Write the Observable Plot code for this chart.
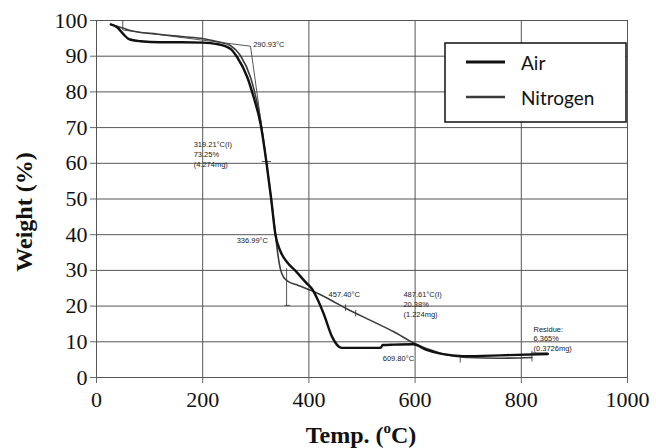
<!DOCTYPE html>
<html><head><meta charset="utf-8">
<script src="https://cdn.jsdelivr.net/npm/d3@7"></script>
<script src="https://cdn.jsdelivr.net/npm/@observablehq/plot@0.6"></script>
<style>body{margin:0;background:#fff} #chart svg{display:block}</style>
</head><body><div id="chart"></div>
<script>
// ---- data ----
const airTemp   = [27, 39, 51, 61, 83, 120, 160, 200, 227, 252, 265, 284, 296, 309, 320, 329, 337, 346, 359, 374, 395, 406, 416, 428, 444, 456, 463, 500, 535, 539, 560, 597, 620, 650, 690, 760, 850];
const airWeight = [98.9, 98.1, 96.1, 94.8, 94.2, 93.9, 93.9, 93.8, 93.4, 92.1, 89.7, 84.1, 78.5, 71, 60.3, 50, 40, 35.5, 32.3, 30, 26.5, 24.8, 22, 17.8, 11.3, 8.7, 8.3, 8.3, 8.3, 9.1, 9.2, 9.3, 7.8, 6.6, 6.0, 6.2, 6.6];

const n2Temp    = [27, 40, 51, 70, 114, 160, 202, 233, 252, 271, 290, 309, 320, 329, 337, 342, 347, 352, 360, 380, 406, 440, 472, 516, 560, 598, 620, 642, 660, 679, 700, 760, 820];
const n2Weight  = [98.9, 98.3, 97.8, 97.0, 96.2, 95.5, 94.9, 93.9, 93.0, 90.2, 84.1, 72, 60.3, 50, 40, 34, 30, 28.2, 27, 25.8, 24.3, 21.8, 19.2, 16, 12.8, 9.6, 8.2, 7.1, 6.3, 5.9, 5.6, 5.4, 5.6];

const xTicks = [0, 200, 400, 600, 800, 1000];
const yTicks = [0, 10, 20, 30, 40, 50, 60, 70, 80, 90, 100];

// instrument annotation segments (temp, weight) and labels
const annSegments = [
  {id: 1, pts: [[49.5, 100], [49.5, 97.4]]},
  {id: 2, pts: [[51, 97.3], [290, 92.8], [312, 69.2]]},
  {id: 3, pts: [[312, 60.5], [328, 60.5]]},
  {id: 4, pts: [[320, 61.3], [320, 59.5]]},
  {id: 5, pts: [[358, 30.5], [358, 20.2]]},
  {id: 6, pts: [[355, 20.2], [364, 20.2]]},
  {id: 7, pts: [[469, 20.4], [469, 18.8]]},
  {id: 8, pts: [[488, 18.8], [488, 17.2]]},
  {id: 9, pts: [[685, 6.2], [685, 4.3]]},
  {id: 10, pts: [[820, 7.4], [820, 4.6]]},
  {id: 11, pts: [[820, 6.9], [849, 6.9]]}
];
const annLabels = [
  {t: 295, w: 94.4, text: "290.93°C"},
  {t: 183, w: 66.4, text: "319.21°C(I)\n73.25%\n(4.274mg)"},
  {t: 264, w: 39.6, text: "336.99°C"},
  {t: 437, w: 24.6, text: "457.40°C"},
  {t: 578, w: 24.4, text: "487.61°C(I)\n20.38%\n(1.224mg)"},
  {t: 539, w: 6.6, text: "609.80°C"},
  {t: 823, w: 14.8, text: "Residue:\n6.365%\n(0.3726mg)"}
];

const seriesNames = ["Air", "Nitrogen"];
const seriesColors = ["#111111", "#3c3c3c"];
const seriesWidths = [2.4, 1.6];

const airData = airTemp.map((t, i) => ({t, w: airWeight[i]}));
const n2Data = n2Temp.map((t, i) => ({t, w: n2Weight[i]}));
const annData = annSegments.flatMap(s => s.pts.map(([t, w]) => ({id: s.id, t, w})));

const serif = "'Liberation Serif', 'Times New Roman', serif";

const plot = Plot.plot({
  width: 656, height: 448,
  marginLeft: 96, marginRight: 29, marginTop: 20, marginBottom: 71,
  style: {background: "#fff", color: "#111", fontFamily: serif},
  x: {domain: [0, 1000], ticks: xTicks, label: null},
  y: {domain: [0, 100], ticks: yTicks, label: null},
  marks: [
    Plot.gridX(xTicks, {stroke: "#555", strokeOpacity: 1, strokeWidth: 1}),
    Plot.gridY(yTicks, {stroke: "#555", strokeOpacity: 1, strokeWidth: 1}),
    Plot.axisX({ticks: xTicks, tickSize: 6, tickPadding: 8, stroke: "#666", label: null, fontSize: 22, fontFamily: serif, tickFormat: d => String(d)}),
    Plot.axisY({ticks: yTicks, tickSize: 6, tickPadding: 3, stroke: "#666", label: null, fontSize: 22, fontFamily: serif}),
    Plot.line(annData, {x: "t", y: "w", z: "id", stroke: "#444", strokeWidth: 0.9}),
    Plot.text(annLabels, {x: "t", y: "w", text: "text", textAnchor: "start", lineAnchor: "top", fontFamily: "Liberation Sans", fontSize: 7.5, lineHeight: 1.3, fill: "#222"}),
    Plot.line(n2Data, {x: "t", y: "w", stroke: seriesColors[1], strokeWidth: seriesWidths[1], curve: "monotone-x"}),
    Plot.line(airData, {x: "t", y: "w", stroke: seriesColors[0], strokeWidth: seriesWidths[0], curve: "monotone-x"})
  ]
});

document.getElementById("chart").appendChild(plot);

const svg = d3.select(plot);

// axis titles
svg.append("text")
  .attr("transform", "translate(24,212) rotate(-90)")
  .attr("text-anchor", "middle").attr("dominant-baseline", "central")
  .style("font-family", serif).style("font-weight", "bold").style("font-size", "24px")
  .attr("fill", "#111")
  .text("Weight (%)");
const xt = svg.append("text")
  .attr("x", 361).attr("y", 443)
  .attr("text-anchor", "middle")
  .style("font-family", serif).style("font-weight", "bold").style("font-size", "24px")
  .attr("fill", "#111");
xt.append("tspan").text("Temp. (");
xt.append("tspan").style("font-size", "15px").attr("dy", -10).text("o");
xt.append("tspan").attr("dy", 10).text("C)");

// legend
const lg = svg.append("g");
lg.append("rect").attr("x", 445).attr("y", 43).attr("width", 181).attr("height", 79)
  .attr("fill", "#fff").attr("stroke", "#111").attr("stroke-width", 1.5);
seriesNames.forEach((name, i) => {
  const y = 62 + i * 35;
  lg.append("line").attr("x1", 466).attr("x2", 505).attr("y1", y).attr("y2", y)
    .attr("stroke", seriesColors[i]).attr("stroke-width", i === 0 ? 3 : 2.4);
  lg.append("text").attr("x", 521).attr("y", y)
    .attr("text-anchor", "start").attr("dominant-baseline", "central")
    .style("font-family", "Lato, 'Open Sans', sans-serif").style("font-size", "19px").attr("fill", "#111")
    .text(name);
});
</script>
</body></html>
